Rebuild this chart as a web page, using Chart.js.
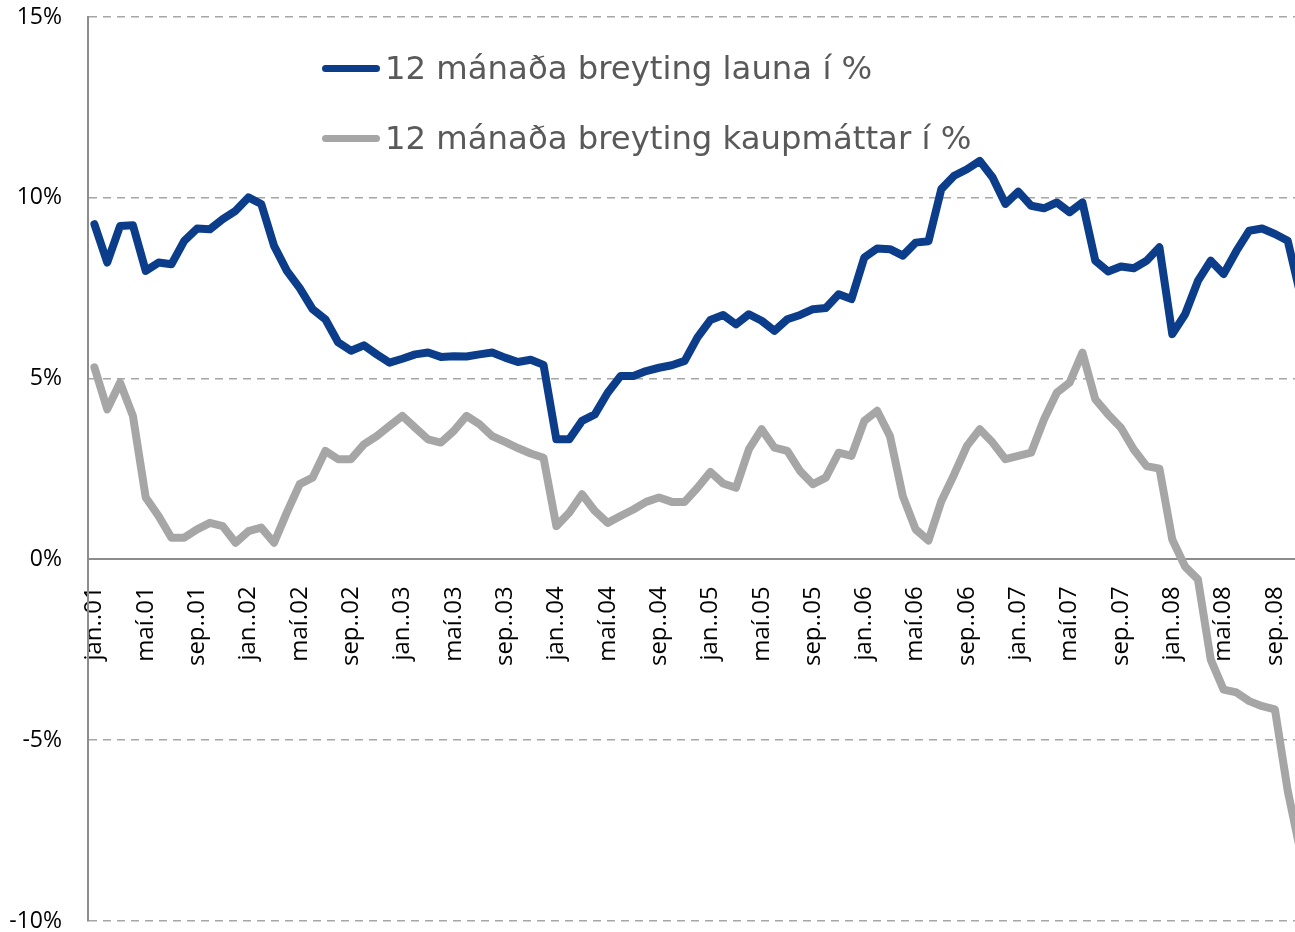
<!DOCTYPE html>
<html lang="is">
<head>
<meta charset="utf-8">
<title>12 mánaða breyting launa og kaupmáttar</title>
<script src="https://cdn.jsdelivr.net/npm/chart.js@4.4.1/dist/chart.umd.min.js"></script>
<style>
    html, body { margin: 0; padding: 0; background: #fff; overflow: hidden; }
    #wrap { position: relative; width: 1295px; height: 932px; overflow: hidden; }
    #legend {
        position: absolute; left: 322px; top: 48px;
        font-family: 'DejaVu Sans', Verdana, sans-serif; font-size: 32.3px; color: #595959;
    }
    .legend-item { display: flex; align-items: center; height: 40px; margin-bottom: 30px; white-space: nowrap; }
    .legend-line { display: inline-block; width: 58px; height: 7px; border-radius: 4px; margin-right: 5px; }
</style>
</head>
<body>
<div id="wrap">
    <canvas id="wageChart" width="1310" height="932"></canvas>
    <div id="legend"></div>
</div>
<script>
// Month labels as in the source sheet ("jan..01", "maí.01", ...)
const MONTHS = ['jan.', 'feb.', 'mar.', 'apr.', 'maí', 'jún.', 'júl.', 'ágú.', 'sep.', 'okt.', 'nóv.', 'des.'];
const YEARS = ['01', '02', '03', '04', '05', '06', '07', '08'];

const SERIES_NAMES = ['12 mánaða breyting launa í %', '12 mánaða breyting kaupmáttar í %'];

// 12 month change in wages, %, jan 2001 - nov 2008
const launa = [
    9.27, 8.21, 9.22, 9.24, 7.98, 8.21, 8.16, 8.81, 9.15, 9.13, 9.41, 9.64,
    10.01, 9.83, 8.67, 7.98, 7.50, 6.92, 6.64, 6.00, 5.77, 5.92, 5.67, 5.44,
    5.55, 5.67, 5.72, 5.60, 5.62, 5.61, 5.67, 5.72, 5.58, 5.46, 5.52, 5.38,
    3.32, 3.32, 3.83, 4.01, 4.61, 5.07, 5.07, 5.21, 5.30, 5.37, 5.49, 6.14,
    6.62, 6.76, 6.50, 6.78, 6.60, 6.32, 6.64, 6.76, 6.92, 6.95, 7.33, 7.20,
    8.35, 8.60, 8.58, 8.40, 8.76, 8.80, 10.24, 10.61, 10.79, 11.02, 10.56, 9.83,
    10.17, 9.78, 9.71, 9.87, 9.60, 9.87, 8.26, 7.96, 8.10, 8.05, 8.26, 8.63,
    6.23, 6.78, 7.70, 8.26, 7.89, 8.53, 9.09, 9.15, 9.00, 8.81, 7.30
];

// 12 month change in purchasing power, %
const kaupmattar = [
    5.31, 4.15, 4.89, 3.97, 1.71, 1.20, 0.60, 0.60, 0.83, 1.01, 0.92, 0.46,
    0.78, 0.88, 0.46, 1.30, 2.08, 2.26, 3.00, 2.77, 2.77, 3.18, 3.41, 3.69,
    3.97, 3.64, 3.32, 3.23, 3.55, 3.97, 3.74, 3.41, 3.25, 3.08, 2.93, 2.81,
    0.92, 1.29, 1.80, 1.34, 1.01, 1.20, 1.38, 1.59, 1.71, 1.59, 1.59, 1.98,
    2.42, 2.10, 1.98, 3.04, 3.60, 3.09, 3.00, 2.44, 2.08, 2.26, 2.95, 2.86,
    3.83, 4.11, 3.41, 1.75, 0.83, 0.52, 1.61, 2.35, 3.14, 3.60, 3.23, 2.77,
    2.86, 2.95, 3.87, 4.61, 4.89, 5.72, 4.43, 4.01, 3.64, 3.04, 2.58, 2.51,
    0.55, -0.20, -0.55, -2.77, -3.60, -3.68, -3.92, -4.06, -4.15, -6.40, -8.10
];

const Y_TICKS = [-10, -5, 0, 5, 10, 15];
const LABEL_EVERY = 4;

const labels = YEARS.flatMap(y => MONTHS.map(m => m + '.' + y)).slice(0, launa.length);

document.addEventListener('DOMContentLoaded', () => {
    const chart = initChart();
    buildLegend(chart);
});

function initChart() {
    const ctx = document.getElementById('wageChart').getContext('2d');
    return new Chart(ctx, {
        type: 'line',
        data: {
            labels: labels,
            datasets: [{
                label: SERIES_NAMES[0],
                data: launa,
                borderColor: '#0b3d8a',
                borderWidth: 8,
                pointRadius: 0,
                tension: 0,
                borderCapStyle: 'round',
                borderJoinStyle: 'round'
            }, {
                label: SERIES_NAMES[1],
                data: kaupmattar,
                borderColor: '#a6a6a6',
                borderWidth: 8,
                pointRadius: 0,
                tension: 0,
                borderCapStyle: 'round',
                borderJoinStyle: 'round'
            }]
        },
        options: {
            responsive: false,
            animation: false,
            layout: { padding: { top: 17, right: 3, bottom: 11, left: 0 } },
            plugins: { legend: { display: false }, tooltip: { enabled: false } },
            scales: {
                x: {
                    type: 'category',
                    offset: true,
                    position: { y: 0 },
                    // the rotated labels should not push the plot area in
                    afterFit: s => { s.paddingLeft = 0; s.paddingRight = 0; },
                    grid: { display: false, drawTicks: false },
                    border: { display: true, color: '#8c8c8c', width: 2 },
                    ticks: {
                        autoSkip: false,
                        minRotation: 90,
                        maxRotation: 90,
                        padding: 27,
                        color: '#000',
                        font: { family: "'Open Sans', sans-serif", size: 24, lineHeight: 1 },
                        callback: (v, i) => i % LABEL_EVERY === 0 ? labels[i] : ''
                    }
                },
                y: {
                    min: Y_TICKS[0],
                    max: Y_TICKS[Y_TICKS.length - 1],
                    afterFit: s => { s.width = 88; s.paddingTop = 0; s.paddingBottom = 0; },
                    grid: {
                        drawTicks: false,
                        lineWidth: 1.5,
                        color: c => c.tick && c.tick.value === 0 ? 'rgba(0,0,0,0)' : '#a6a6a6'
                    },
                    border: { display: true, color: '#8c8c8c', width: 2, dash: [8, 6] },
                    ticks: {
                        stepSize: Y_TICKS[1] - Y_TICKS[0],
                        padding: 26,
                        color: '#000',
                        font: { family: "'Open Sans', sans-serif", size: 23, lineHeight: 1 },
                        callback: v => v + '%'
                    }
                }
            }
        }
    });
}

function buildLegend(chart) {
    const legend = document.getElementById('legend');
    legend.innerHTML = '';
    chart.data.datasets.forEach(ds => {
        const div = document.createElement('div');
        div.className = 'legend-item';
        div.innerHTML = `<span class="legend-line" style="background:${ds.borderColor}"></span><span>${ds.label}</span>`;
        legend.appendChild(div);
    });
}
</script>
</body>
</html>
